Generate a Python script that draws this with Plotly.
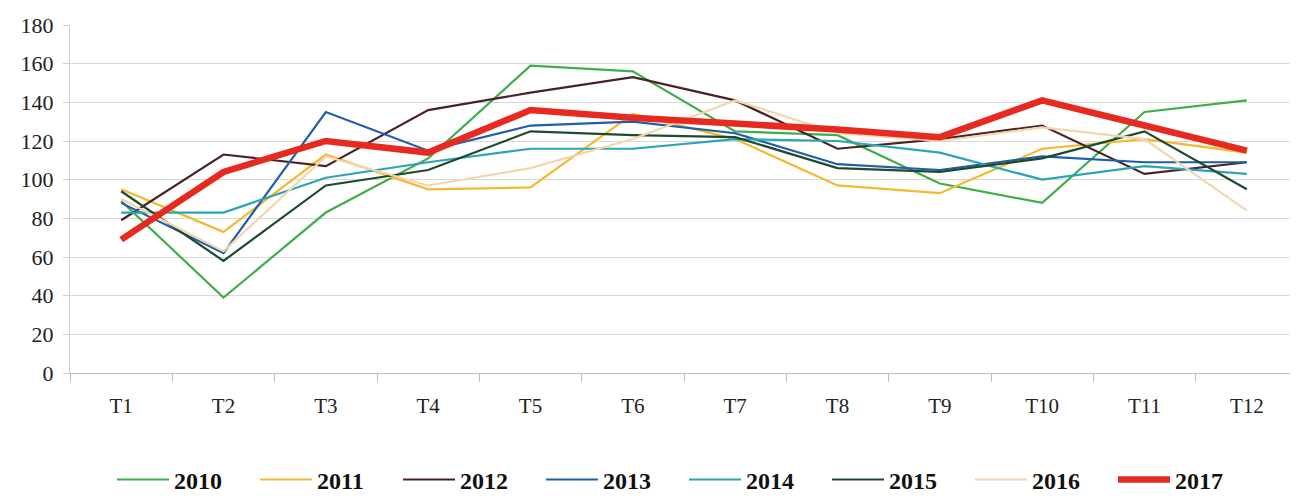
import plotly.graph_objects as go

months = ["T1", "T2", "T3", "T4", "T5", "T6", "T7", "T8", "T9", "T10", "T11", "T12"]
y2010 = [89, 39, 83, 111, 159, 156, 125, 123, 98, 88, 135, 141]
y2011 = [95, 73, 113, 95, 96, 134, 121, 97, 93, 116, 121, 114]
y2012 = [79, 113, 107, 136, 145, 153, 141, 116, 121, 128, 103, 109]
y2013 = [88, 62, 135, 115, 128, 130, 124, 108, 105, 112, 109, 109]
y2014 = [83, 83, 101, 109, 116, 116, 121, 120, 114, 100, 107, 103]
y2015 = [94, 58, 97, 105, 125, 123, 122, 106, 104, 111, 125, 95]
y2016 = [90, 63, 112, 97, 106, 121, 141, 124, 120, 127, 121, 84]
y2017 = [69, 104, 120, 114, 136, 132, 129, 126, 122, 141, 128, 115]

series = [
    ("2010", y2010, "#3fae49", 2.2),
    ("2011", y2011, "#f4b92e", 2.2),
    ("2012", y2012, "#4b2026", 2.2),
    ("2013", y2013, "#1f5ea8", 2.2),
    ("2014", y2014, "#2ba5b6", 2.2),
    ("2015", y2015, "#1e4a2c", 2.2),
    ("2016", y2016, "#f3d6ae", 2.2),
    ("2017", y2017, "#e62a20", 6.5),
]

fig = go.Figure()
for name, vals, color, w in series:
    fig.add_trace(go.Scatter(
        x=months, y=vals, name=name, mode="lines",
        line=dict(color=color, width=w),
    ))

fig.update_layout(
    width=1290, height=489,
    margin=dict(l=62, r=0, t=17, b=124),
    paper_bgcolor="white", plot_bgcolor="white",
    font=dict(family="Liberation Serif", size=20, color="#222"),
    showlegend=True,
    legend=dict(
        orientation="h", x=0.5, xanchor="center",
        yref="container", y=0.035, yanchor="middle",
        font=dict(family="Liberation Serif", size=24, color="#111", weight="bold"),
        entrywidth=76, entrywidthmode="pixels",
        itemwidth=52, traceorder="normal",
    ),
)
fig.update_xaxes(
    type="category", range=[-0.5, 11.5],
    showline=True, linecolor="#bdbdbd", linewidth=1,
    ticks="outside", tickson="boundaries", ticklen=8, tickcolor="#bdbdbd",
    ticklabelstandoff=14,
    showgrid=False, tickfont=dict(family="Liberation Serif", size=21, color="#222"),
)
fig.update_yaxes(
    range=[0, 180], dtick=20,
    showline=True, linecolor="#d0d0d0", linewidth=1,
    ticks="outside", ticklen=6, tickcolor="#d0d0d0",
    ticklabelstandoff=5,
    gridcolor="#d9d9d9", gridwidth=1, zeroline=False,
    tickfont=dict(family="Liberation Serif", size=22, color="#222"),
)

fig.write_html("out.html")
